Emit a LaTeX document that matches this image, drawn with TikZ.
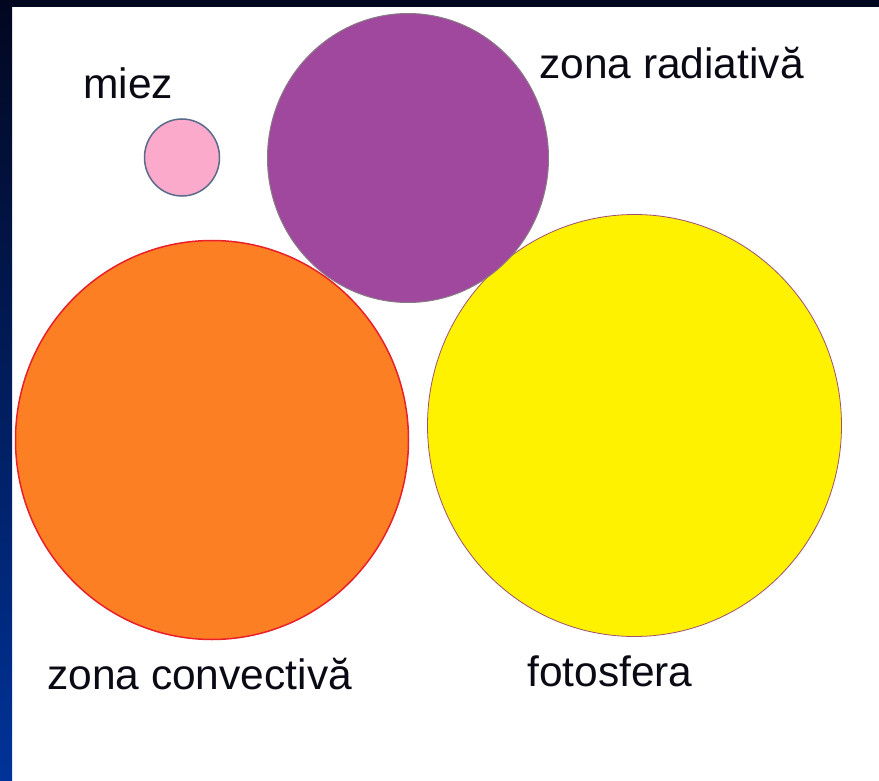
\documentclass[tikz,border=0pt]{standalone}
\usepackage{fontspec}
\usetikzlibrary{shapes.geometric}
\setmainfont{Liberation Sans}
\definecolor{topbar}{HTML}{020720}
\definecolor{barbot}{HTML}{003399}
\definecolor{miezfill}{HTML}{FBAACB}
\definecolor{miezline}{HTML}{5A6A8A}
\definecolor{radfill}{HTML}{A0489E}
\definecolor{radline}{HTML}{8A7A84}
\definecolor{convfill}{HTML}{FD7F23}
\definecolor{convline}{HTML}{E8202A}
\definecolor{fotofill}{HTML}{FFF200}
\definecolor{fotoline}{HTML}{A05070}
\definecolor{txt}{HTML}{0A0A14}
\begin{document}
\begin{tikzpicture}[x=1pt,y=-1pt,
  ball/.style={ellipse,inner sep=0pt,line width=1.5pt},
  lbl/.style={anchor=base west,inner sep=0pt,font=\fontsize{42.5}{50}\selectfont,text=txt}]
\useasboundingbox (0,0) rectangle (879,781);
\fill[white] (0,0) rectangle (879,781);
\fill[topbar] (0,0) rectangle (879,7);
\shade[top color=topbar,bottom color=barbot] (0,0) rectangle (12,781);
\node[ball,fill=convfill,draw=convline,minimum width=393pt,minimum height=399pt] (conv) at (212,440) {};
\node[ball,fill=fotofill,draw=fotoline,line width=0.8pt,minimum width=414pt,minimum height=422pt] (foto) at (634.5,425.5) {};
\node[ball,fill=radfill,draw=radline,line width=1pt,minimum width=281pt,minimum height=289pt] (rad) at (408,158) {};
\node[ball,fill=miezfill,draw=miezline,minimum width=75pt,minimum height=77pt] (miez) at (182,157.5) {};
\node[lbl] (lmiez) at (83,99) {miez};
\node[lbl] (lrad) at (539,79) {zona radiativă};
\node[lbl] (lconv) at (47,689) {zona convectivă};
\node[lbl] (lfoto) at (527,686) {fotosfera};
\end{tikzpicture}
\end{document}
